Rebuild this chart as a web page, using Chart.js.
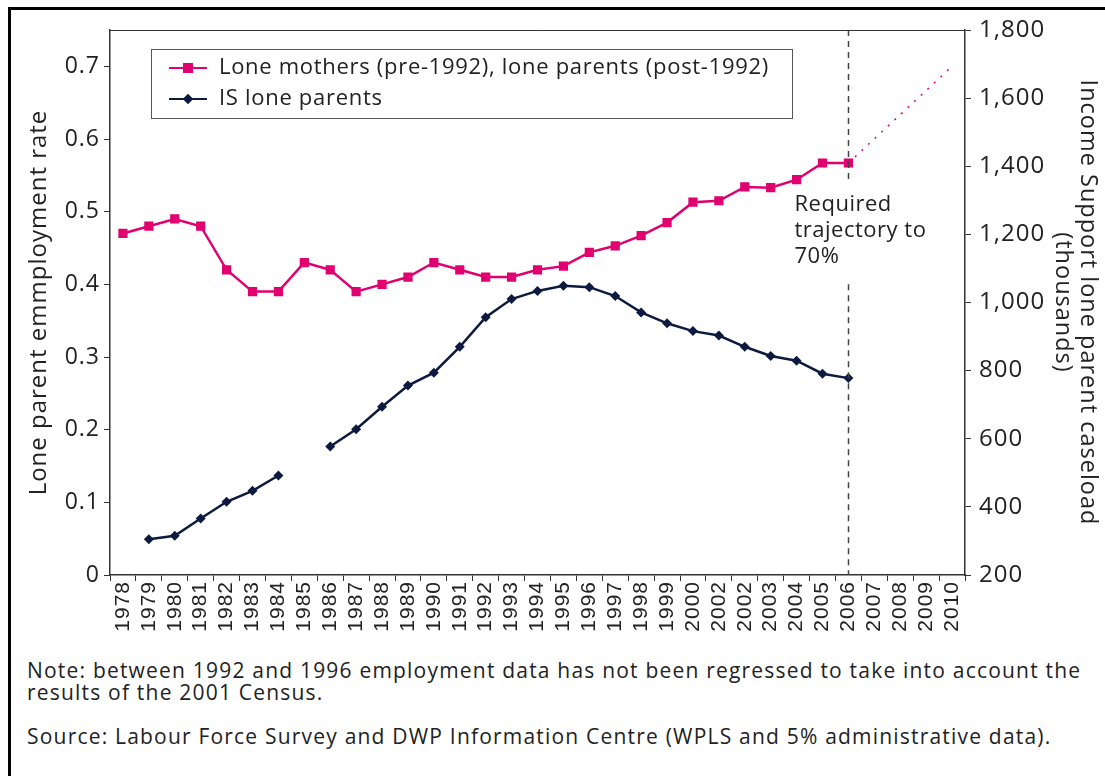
<!DOCTYPE html>
<html>
<head>
<meta charset="utf-8">
<script src="https://cdn.jsdelivr.net/npm/chart.js@4/dist/chart.umd.min.js"></script>
<style>
  body { margin: 0; background: #fff; font-family: "Open Sans", sans-serif; color: #222; }
  #frame { position: absolute; left: 8px; top: 7px; width: 1200px; height: 900px; border-left: 3px solid #000; border-top: 3px solid #000; }
  #box { position: absolute; left: 0; top: 0; width: 1105px; height: 640px; }
  .note { position: absolute; left: 27px; font-size: 21px; letter-spacing: 1.2px; line-height: 22px; white-space: nowrap; }
</style>
</head>
<body>
<div id="frame"></div>
<div id="box"><canvas id="grafico"></canvas></div>
<div class="note" style="top:659px">Note: between 1992 and 1996 employment data has not been regressed to take into account the<br>results of the 2001 Census.</div>
<div class="note" style="top:725px">Source: Labour Force Survey and DWP Information Centre (WPLS and 5% administrative data).</div>
<script>
var anos = ["1978", "1979", "1980", "1981", "1982", "1983", "1984", "1985", "1986", "1987", "1988",
    "1989", "1990", "1991", "1992", "1993", "1994", "1995", "1996", "1997", "1998", "1999", "2000",
    "2002", "2002", "2003", "2004", "2005", "2006", "2007", "2008", "2009", "2010"];

// employment rate (left axis)
var taxaEmprego = [0.47, 0.48, 0.49, 0.48, 0.42, 0.39, 0.39, 0.43, 0.42, 0.39, 0.40,
    0.41, 0.43, 0.42, 0.41, 0.41, 0.42, 0.425, 0.444, 0.453, 0.467, 0.485, 0.513,
    0.515, 0.534, 0.533, 0.544, 0.567, 0.567, null, null, null, null];

// required trajectory to 70%
var trajetoria = [null, null, null, null, null, null, null, null, null, null, null,
    null, null, null, null, null, null, null, null, null, null, null, null,
    null, null, null, null, null, 0.567, null, null, null, 0.70];

// IS caseload, thousands (right axis)
var casosIS = [null, 305, 315, 366, 415, 447, 492, null, 577, 628, 694,
    756, 794, 870, 957, 1010, 1034, 1049, 1045, 1019, 971, 939, 916,
    903, 870, 843, 829, 791, 778, null, null, null, null];

var ticksEsquerda = [0, 0.1, 0.2, 0.3, 0.4, 0.5, 0.6, 0.7];
var ticksDireita = [200, 400, 600, 800, 1000, 1200, 1400, 1600, 1800];

var rosa = "#e0006f";
var azul = "#0d1a40";
var fonte = "'Open Sans', sans-serif";

// wider tracking for the axis texts
var espacamento = {
    id: "espacamento",
    beforeDraw: function (chart) { chart.ctx.letterSpacing = "1px"; },
    afterDraw: function (chart) { chart.ctx.letterSpacing = "0px"; }
};

var legendaCaixa = {
    id: "legendaCaixa",
    afterDraw: function (chart) {
        var ctx = chart.ctx;
        var x = chart.chartArea.left + 41, y = chart.chartArea.top + 19;
        ctx.save();
        ctx.fillStyle = "#fff";
        ctx.fillRect(x, y, 641, 69);
        ctx.strokeStyle = "#555";
        ctx.lineWidth = 1;
        ctx.strokeRect(x + 0.5, y + 0.5, 641, 69);
        var itens = [chart.data.datasets[0], chart.data.datasets[2]];
        itens.forEach(function (ds, i) {
            var ly = y + 19 + i * 31;
            ctx.strokeStyle = ds.borderColor;
            ctx.lineWidth = 2;
            ctx.beginPath();
            ctx.moveTo(x + 18, ly);
            ctx.lineTo(x + 56, ly);
            ctx.stroke();
            ctx.fillStyle = ds.borderColor;
            Chart.helpers.drawPoint(ctx, {pointStyle: ds.pointStyle, radius: i === 0 ? 7 : 5, borderWidth: 0}, x + 37, ly);
            ctx.fill();
            ctx.fillStyle = "#222";
            ctx.font = "22px " + fonte;
            ctx.letterSpacing = "0.7px";
            ctx.textBaseline = "middle";
            ctx.fillText(ds.label, x + 68, ly);
        });
        ctx.restore();
    }
};

var anotacao = {
    id: "anotacao",
    afterDatasetsDraw: function (chart) {
        var ctx = chart.ctx;
        var sx = chart.scales.x, sy = chart.scales.y;
        var px = Math.round(sx.getPixelForValue(28)) + 0.5;
        ctx.save();
        ctx.strokeStyle = "#444";
        ctx.lineWidth = 1.5;
        ctx.setLineDash([6, 5]);
        ctx.beginPath();
        ctx.moveTo(px, chart.chartArea.top);
        ctx.lineTo(px, sy.getPixelForValue(0.545));
        ctx.moveTo(px, sy.getPixelForValue(0.40));
        ctx.lineTo(px, chart.chartArea.bottom);
        ctx.stroke();
        ctx.setLineDash([]);
        // top frame line
        ctx.strokeStyle = "#333";
        ctx.lineWidth = 1;
        ctx.beginPath();
        ctx.moveTo(chart.chartArea.left, chart.chartArea.top + 0.5);
        ctx.lineTo(chart.chartArea.right, chart.chartArea.top + 0.5);
        ctx.stroke();
        ctx.fillStyle = "#222";
        ctx.font = "22px " + fonte;
        ctx.letterSpacing = "0.5px";
        ctx.textBaseline = "middle";
        var linhas = ["Required", "trajectory to", "70%"];
        linhas.forEach(function (t, i) {
            ctx.fillText(t, px - 54, sy.getPixelForValue(0.51) + i * 26);
        });
        ctx.restore();
    }
};

var grafico = new Chart(document.querySelector("#grafico").getContext("2d"), {
    type: "line",
    data: {
        labels: anos,
        datasets: [{
                label: "Lone mothers (pre-1992), lone parents (post-1992)",
                data: taxaEmprego,
                yAxisID: "y",
                borderColor: rosa,
                backgroundColor: rosa,
                borderWidth: 2.5,
                pointStyle: "rect",
                pointRadius: 6.5,
                pointBorderWidth: 0
            },
            {
                label: "Required trajectory",
                data: trajetoria,
                yAxisID: "y",
                borderColor: rosa,
                borderWidth: 1.5,
                borderDash: [2, 7],
                pointRadius: 0,
                spanGaps: true
            },
            {
                label: "IS lone parents",
                data: casosIS,
                yAxisID: "y1",
                borderColor: azul,
                backgroundColor: azul,
                borderWidth: 2.5,
                pointStyle: "rectRot",
                pointRadius: 5,
                pointBorderWidth: 0,
                spanGaps: false
            }
        ]
    },
    options: {
        responsive: true,
        maintainAspectRatio: false,
        animation: false,
        layout: { padding: { left: 22, top: 30, right: 0, bottom: 0 } },
        plugins: { legend: { display: false }, tooltip: { enabled: false } },
        scales: {
            x: {
                offset: true,
                grid: { offset: true, drawOnChartArea: false, tickLength: 6, color: "#333" },
                border: { color: "#333", width: 1.5 },
                ticks: { autoSkip: false, minRotation: 90, maxRotation: 90, padding: 0, color: "#222",
                    font: { family: "'Liberation Sans', Arial, sans-serif", size: 21 } },
                afterFit: function (s) { s.height = 65; }
            },
            y: {
                position: "left",
                min: 0,
                max: 0.75,
                afterBuildTicks: function (s) { s.ticks = ticksEsquerda.map(function (v) { return {value: v}; }); },
                grid: { drawOnChartArea: false, tickLength: 6, color: "#333" },
                border: { color: "#333", width: 1.5 },
                ticks: { padding: 4, color: "#222", font: { family: fonte, size: 23 },
                    callback: function (v) { return v === 0 ? "0" : v.toFixed(1); } },
                title: { display: true, text: "Lone parent emmployment rate", color: "#222",
                    font: { family: fonte, size: 24, lineHeight: 1.1 } },
                afterFit: function (s) { s.width = 88; }
            },
            y1: {
                position: "right",
                min: 200,
                max: 1800,
                afterBuildTicks: function (s) { s.ticks = ticksDireita.map(function (v) { return {value: v}; }); },
                grid: { drawOnChartArea: false, tickLength: 6, color: "#333" },
                border: { color: "#333", width: 1.5 },
                ticks: { padding: 8, color: "#222", font: { family: fonte, size: 24 },
                    callback: function (v) { return v.toLocaleString("en-US"); } },
                title: { display: true, text: ["Income Support lone parent caseload", "(thousands)"], color: "#222",
                    font: { family: fonte, size: 23.5, lineHeight: 1.1 } },
                afterFit: function (s) { s.width = 140; }
            }
        }
    },
    plugins: [espacamento, anotacao, legendaCaixa]
});
</script>
</body>
</html>
